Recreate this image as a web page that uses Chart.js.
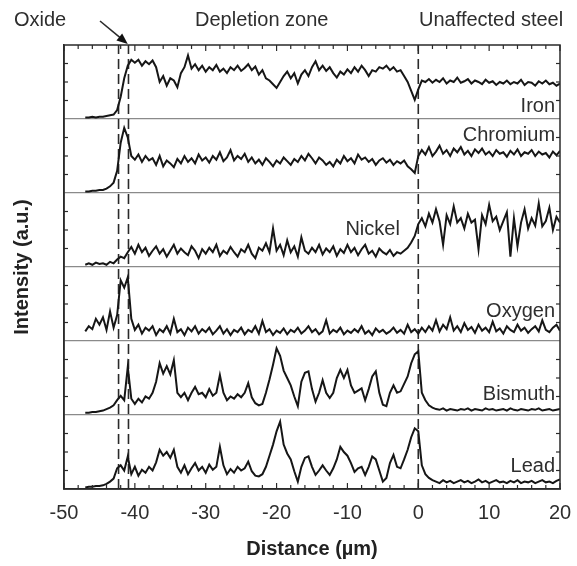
<!DOCTYPE html>
<html><head><meta charset="utf-8">
<script src="https://cdn.jsdelivr.net/npm/chart.js@4.4.1/dist/chart.umd.min.js"></script>
<style>html,body{margin:0;padding:0;background:#fff;}#wrap{width:577px;height:566px;}</style>
</head><body><div id="wrap"><canvas id="c" width="577" height="566"></canvas></div>
<script>
const distanceUm = [-47,-46.5,-46,-45.5,-45,-44.5,-44,-43.5,-43,-42.5,-42,-41.5,-41,-40.5,-40,-39.5,-39,-38.5,-38,-37.5,-37,-36.5,-36,-35.5,-35,-34.5,-34,-33.5,-33,-32.5,-32,-31.5,-31,-30.5,-30,-29.5,-29,-28.5,-28,-27.5,-27,-26.5,-26,-25.5,-25,-24.5,-24,-23.5,-23,-22.5,-22,-21.5,-21,-20.5,-20,-19.5,-19,-18.5,-18,-17.5,-17,-16.5,-16,-15.5,-15,-14.5,-14,-13.5,-13,-12.5,-12,-11.5,-11,-10.5,-10,-9.5,-9,-8.5,-8,-7.5,-7,-6.5,-6,-5.5,-5,-4.5,-4,-3.5,-3,-2.5,-2,-1.5,-1,-0.5,0,0.5,1,1.5,2,2.5,3,3.5,4,4.5,5,5.5,6,6.5,7,7.5,8,8.5,9,9.5,10,10.5,11,11.5,12,12.5,13,13.5,14,14.5,15,15.5,16,16.5,17,17.5,18,18.5,19,19.5,20];

const iron = [0.02,0.02,0.03,0.02,0.03,0.03,0.04,0.05,0.06,0.12,
0.30,0.55,0.72,0.80,0.76,0.80,0.72,0.78,0.74,0.79,
0.70,0.50,0.58,0.45,0.55,0.52,0.43,0.62,0.70,0.86,
0.68,0.74,0.66,0.72,0.64,0.70,0.66,0.73,0.64,0.68,
0.62,0.70,0.66,0.72,0.65,0.69,0.74,0.66,0.71,0.60,
0.66,0.55,0.52,0.47,0.42,0.50,0.58,0.64,0.55,0.62,
0.48,0.60,0.66,0.58,0.70,0.78,0.66,0.72,0.65,0.70,
0.62,0.56,0.64,0.60,0.67,0.62,0.70,0.64,0.72,0.66,
0.58,0.66,0.64,0.70,0.68,0.72,0.66,0.70,0.64,0.66,
0.58,0.50,0.38,0.26,0.40,0.52,0.50,0.54,0.49,0.53,
0.50,0.55,0.48,0.52,0.50,0.56,0.49,0.51,0.54,0.48,
0.52,0.50,0.47,0.53,0.49,0.51,0.46,0.50,0.48,0.52,
0.47,0.50,0.48,0.53,0.46,0.50,0.49,0.45,0.51,0.48,
0.52,0.47,0.49,0.45,0.48];

const chromium = [0.02,0.02,0.03,0.03,0.04,0.04,0.06,0.09,0.14,0.30,
0.68,0.88,0.75,0.50,0.45,0.52,0.42,0.50,0.44,0.47,
0.38,0.50,0.36,0.44,0.40,0.35,0.46,0.40,0.50,0.42,
0.47,0.40,0.52,0.44,0.48,0.41,0.50,0.45,0.55,0.43,
0.48,0.58,0.44,0.50,0.46,0.53,0.42,0.48,0.40,0.45,
0.38,0.47,0.42,0.36,0.44,0.40,0.48,0.43,0.38,0.46,
0.42,0.50,0.44,0.53,0.47,0.40,0.48,0.44,0.38,0.42,
0.36,0.45,0.40,0.50,0.43,0.47,0.40,0.52,0.45,0.48,
0.42,0.46,0.38,0.44,0.47,0.41,0.45,0.38,0.43,0.40,
0.44,0.36,0.32,0.27,0.50,0.58,0.52,0.62,0.50,0.56,
0.64,0.53,0.58,0.50,0.60,0.55,0.62,0.52,0.57,0.50,
0.59,0.54,0.60,0.52,0.56,0.50,0.58,0.53,0.55,0.49,
0.57,0.52,0.59,0.50,0.55,0.53,0.58,0.50,0.56,0.52,
0.54,0.48,0.56,0.51,0.57];

const nickel = [0.03,0.05,0.03,0.06,0.04,0.05,0.03,0.07,0.05,0.10,
0.14,0.12,0.20,0.27,0.18,0.30,0.20,0.26,0.15,0.22,
0.28,0.18,0.24,0.14,0.22,0.30,0.18,0.25,0.20,0.16,
0.28,0.22,0.12,0.24,0.18,0.26,0.20,0.30,0.15,0.22,
0.18,0.27,0.20,0.14,0.24,0.20,0.30,0.18,0.12,0.26,
0.22,0.32,0.20,0.52,0.22,0.30,0.16,0.36,0.20,0.28,
0.14,0.40,0.22,0.18,0.26,0.20,0.30,0.17,0.25,0.20,
0.28,0.15,0.24,0.19,0.30,0.20,0.26,0.16,0.24,0.30,
0.18,0.22,0.14,0.25,0.20,0.17,0.23,0.15,0.20,0.18,
0.22,0.26,0.33,0.42,0.58,0.66,0.55,0.72,0.60,0.78,
0.62,0.30,0.70,0.58,0.82,0.60,0.66,0.52,0.72,0.60,
0.64,0.24,0.70,0.58,0.84,0.62,0.68,0.50,0.62,0.74,
0.14,0.66,0.28,0.60,0.78,0.52,0.66,0.56,0.86,0.55,
0.62,0.80,0.50,0.68,0.60];

const oxygen = [0.13,0.20,0.16,0.30,0.22,0.32,0.15,0.40,0.18,0.35,
0.82,0.72,0.86,0.30,0.15,0.22,0.10,0.18,0.14,0.20,
0.08,0.16,0.12,0.20,0.10,0.30,0.12,0.16,0.08,0.18,
0.13,0.20,0.10,0.16,0.12,0.18,0.09,0.14,0.20,0.10,
0.16,0.08,0.15,0.12,0.18,0.09,0.15,0.12,0.20,0.10,
0.27,0.12,0.16,0.08,0.14,0.11,0.17,0.09,0.15,0.12,
0.18,0.10,0.14,0.20,0.12,0.16,0.09,0.13,0.28,0.10,
0.15,0.12,0.18,0.09,0.14,0.11,0.16,0.12,0.20,0.10,
0.14,0.08,0.17,0.12,0.15,0.10,0.13,0.18,0.11,0.15,
0.10,0.22,0.12,0.16,0.10,0.18,0.12,0.20,0.14,0.28,
0.13,0.22,0.16,0.32,0.14,0.20,0.12,0.24,0.15,0.19,
0.11,0.22,0.14,0.18,0.12,0.26,0.13,0.17,0.10,0.20,
0.15,0.12,0.22,0.14,0.18,0.11,0.16,0.20,0.13,0.28,
0.15,0.12,0.18,0.22,0.14];

const bismuth = [0.03,0.03,0.04,0.04,0.05,0.06,0.08,0.10,0.13,0.20,
0.26,0.20,0.65,0.22,0.15,0.22,0.17,0.25,0.22,0.30,
0.45,0.70,0.56,0.66,0.55,0.74,0.30,0.24,0.30,0.20,
0.30,0.38,0.28,0.30,0.24,0.35,0.26,0.30,0.54,0.30,
0.20,0.25,0.22,0.28,0.24,0.30,0.43,0.24,0.16,0.13,
0.15,0.30,0.48,0.68,0.90,0.80,0.60,0.50,0.40,0.25,
0.12,0.45,0.57,0.59,0.35,0.18,0.30,0.47,0.30,0.23,
0.30,0.50,0.61,0.50,0.61,0.40,0.30,0.33,0.36,0.20,
0.35,0.52,0.59,0.30,0.14,0.12,0.30,0.40,0.30,0.32,
0.42,0.52,0.70,0.82,0.86,0.30,0.20,0.13,0.10,0.08,
0.07,0.09,0.06,0.08,0.07,0.06,0.08,0.07,0.09,0.06,
0.08,0.07,0.06,0.09,0.07,0.08,0.06,0.07,0.08,0.06,
0.09,0.07,0.06,0.08,0.07,0.06,0.08,0.07,0.09,0.06,
0.07,0.08,0.06,0.07,0.08];

const lead = [0.02,0.03,0.03,0.04,0.04,0.05,0.07,0.10,0.14,0.28,
0.32,0.25,0.44,0.20,0.30,0.18,0.26,0.22,0.30,0.25,
0.36,0.53,0.45,0.50,0.42,0.53,0.30,0.22,0.32,0.20,
0.28,0.35,0.25,0.30,0.22,0.33,0.26,0.30,0.57,0.32,
0.20,0.27,0.22,0.30,0.25,0.28,0.37,0.24,0.18,0.17,
0.20,0.30,0.45,0.60,0.78,0.91,0.60,0.48,0.40,0.24,
0.10,0.30,0.42,0.44,0.30,0.19,0.25,0.32,0.25,0.19,
0.28,0.40,0.57,0.50,0.45,0.35,0.23,0.28,0.30,0.19,
0.30,0.44,0.40,0.25,0.10,0.15,0.35,0.46,0.30,0.28,
0.40,0.53,0.70,0.82,0.78,0.32,0.20,0.15,0.12,0.10,
0.08,0.12,0.09,0.11,0.08,0.10,0.12,0.09,0.11,0.08,
0.10,0.13,0.09,0.11,0.08,0.10,0.12,0.09,0.10,0.08,
0.11,0.09,0.12,0.08,0.10,0.09,0.11,0.08,0.10,0.12,
0.09,0.10,0.08,0.11,0.13];

const elementNames = ['Iron','Chromium','Nickel','Oxygen','Bismuth','Lead'];
const elementSeries = [iron, chromium, nickel, oxygen, bismuth, lead];
const xTickLabels = [-50,-40,-30,-20,-10,0,10,20];
const boundaryDistances = [-42.3, -40.9, 0];
const zoneLabels = ['Oxide','Depletion zone','Unaffected steel'];

const FONT = '"Liberation Sans", Arial, Helvetica, sans-serif';
const TEXT = '#2e2e2e';
const nPanels = elementNames.length;

const datasets = [];
elementSeries.forEach((vals, k) => {
  const offset = nPanels - 1 - k;
  datasets.push({
    label: elementNames[k],
    data: distanceUm.map((d, i) => ({x: d, y: offset + vals[i]})),
    borderColor: '#161616', borderWidth: 2, pointRadius: 0, tension: 0, fill: false
  });
});
boundaryDistances.forEach(b => {
  datasets.push({
    label: 'boundary', data: [{x: b, y: 0}, {x: b, y: nPanels}],
    borderColor: '#2a2a2a', borderWidth: 1.6, borderDash: [10, 5], pointRadius: 0, fill: false
  });
});

const decor = {
  id: 'decor',
  afterDraw(chart) {
    const {ctx, chartArea: {left, right, top, bottom}, scales: {x, y}} = chart;
    ctx.save();
    ctx.strokeStyle = '#2a2a2a';
    ctx.lineWidth = 1.5;
    ctx.strokeRect(left, top, right - left, bottom - top);
    ctx.lineWidth = 1.2;
    const seg = (x1, y1, x2, y2) => { ctx.beginPath(); ctx.moveTo(x1, y1); ctx.lineTo(x2, y2); ctx.stroke(); };
    for (let v = -50; v <= 20; v += 2) {
      const px = x.getPixelForValue(v);
      const len = (v % 10 === 0) ? 6 : 4;
      seg(px, bottom, px, bottom - len);
      seg(px, top, px, top + len);
    }
    for (let p = 0; p < nPanels; p++) {
      for (let q = 1; q <= 3; q++) {
        const py = y.getPixelForValue(p + q / 4);
        seg(left, py, left + 4, py);
        seg(right, py, right - 4, py);
      }
    }
    ctx.fillStyle = TEXT;
    ctx.font = '20px ' + FONT;
    ctx.textBaseline = 'alphabetic';
    ctx.textAlign = 'left';
    ctx.fillText(zoneLabels[0], 14, 26);
    ctx.fillText(zoneLabels[1], 195, 26);
    ctx.fillText(zoneLabels[2], 419, 26);
    const ax1 = 100, ay1 = 21, ax2 = x.getPixelForValue(-41), ay2 = top - 1;
    const ang = Math.atan2(ay2 - ay1, ax2 - ax1);
    ctx.lineWidth = 1.6;
    seg(ax1, ay1, ax2 - 8 * Math.cos(ang), ay2 - 8 * Math.sin(ang));
    ctx.beginPath();
    ctx.moveTo(ax2, ay2);
    ctx.lineTo(ax2 - 11 * Math.cos(ang) + 4.5 * Math.sin(ang), ay2 - 11 * Math.sin(ang) - 4.5 * Math.cos(ang));
    ctx.lineTo(ax2 - 11 * Math.cos(ang) - 4.5 * Math.sin(ang), ay2 - 11 * Math.sin(ang) + 4.5 * Math.cos(ang));
    ctx.closePath();
    ctx.fillStyle = '#111';
    ctx.fill();
    ctx.fillStyle = TEXT;
    ctx.textAlign = 'right';
    const rx = x.getPixelForValue(19.3);
    const labelPos = [[rx, 5.095], [rx, 4.70], [x.getPixelForValue(-2.6), 3.43], [rx, 2.32], [rx, 1.20], [rx, 0.23]];
    elementNames.forEach((n, k) => {
      ctx.fillText(n, labelPos[k][0], y.getPixelForValue(labelPos[k][1]));
    });
    ctx.restore();
  }
};

new Chart(document.getElementById('c'), {
  type: 'line',
  data: {datasets},
  plugins: [decor],
  options: {
    responsive: false, animation: false, devicePixelRatio: 1,
    layout: {padding: {left: 0, right: 17, top: 45, bottom: 2}},
    plugins: {legend: {display: false}, tooltip: {enabled: false}},
    scales: {
      x: {
        type: 'linear', min: -50, max: 20,
        afterBuildTicks: s => { s.ticks = xTickLabels.map(v => ({value: v})); },
        afterFit: s => { s.paddingRight = 0; s.paddingLeft = 0; },
        ticks: {font: {family: FONT, size: 20}, color: TEXT, padding: 12, maxRotation: 0, autoSkip: false,
                callback: v => String(v)},
        grid: {display: false, drawTicks: false},
        border: {display: true, color: '#2a2a2a', width: 1.5},
        title: {display: true, text: 'Distance (µm)', color: '#222',
                font: {family: FONT, size: 20, weight: 'bold'}, padding: {top: 0, bottom: 3}}
      },
      y: {
        type: 'linear', min: 0, max: nPanels,
        ticks: {display: false, stepSize: 1},
        grid: {display: true, drawTicks: false, lineWidth: 1.2,
               color: c => (c.tick && (c.tick.value === 0 || c.tick.value === nPanels)) ? 'rgba(0,0,0,0)' : '#8a8a8a'},
        border: {display: true, color: '#2a2a2a', width: 1.5},
        title: {display: true, text: 'Intensity (a.u.)', color: '#222',
                font: {family: FONT, size: 20, weight: 'bold'}, padding: {top: 10, bottom: 30}}
      }
    }
  }
});
</script>
</body></html>
